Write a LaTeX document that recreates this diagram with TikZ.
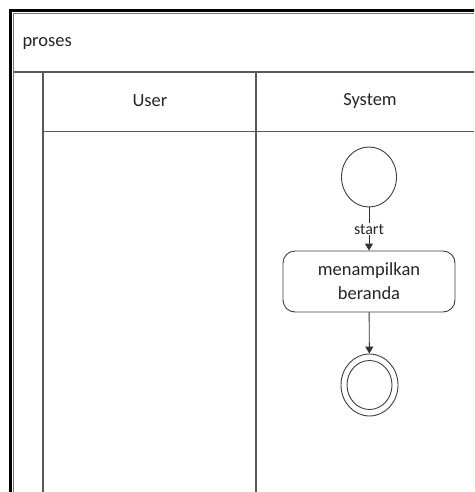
\documentclass[tikz,border=0pt]{standalone}
\usepackage{fontspec}
\setmainfont{Carlito}
\usetikzlibrary{shapes.geometric,arrows.meta}
\tikzset{
  lane/.style={draw=black!65, line width=1.3pt},
  bigtxt/.style={font=\fontsize{18.5}{24}\selectfont, text=black!85},
  lbltxt/.style={font=\fontsize{16}{19}\selectfont, text=black!85},
  initnode/.style={ellipse, draw=black!75, line width=0.9pt, minimum width=55pt, minimum height=60pt, inner sep=0pt},
  finalouter/.style={ellipse, draw=black!75, line width=0.9pt, minimum width=57pt, minimum height=62pt, inner sep=0pt},
  finalinner/.style={ellipse, draw=black!75, line width=0.9pt, minimum width=45pt, minimum height=49pt, inner sep=0pt},
  actionbox/.style={draw=black!75, line width=0.9pt, rounded corners=12pt, minimum width=172pt, minimum height=61pt, align=center, inner sep=2pt},
  flow/.style={draw=black!80, line width=0.9pt, -{Triangle[width=8pt,length=7pt]}}
}
\begin{document}
\begin{tikzpicture}[x=1pt,y=-1pt]
\useasboundingbox (0,0) rectangle (474,492);
\clip (0,0) rectangle (474,492);
\fill[white] (0,0) rectangle (474,492);
% outer frame
\draw[black, line width=3pt] (480,10.5) -- (10.5,10.5) -- (10.5,500);
\draw[black!55, line width=1pt] (480,13.8) -- (13.8,13.8) -- (13.8,500);
% header line
\draw[lane] (13.8,72) -- (480,72);
\node[bigtxt, anchor=west] (title) at (19,43) {proses};
% lane lines
\draw[lane] (43,72) -- (43,500);
\draw[lane] (256,72) -- (256,500);
\draw[lane] (43,131.5) -- (480,131.5);
\node[bigtxt] (user) at (150,101) {User};
\node[bigtxt] (system) at (370,101) {System};
% activity
\node[initnode] (init) at (369,177) {};
\node[actionbox, bigtxt] (act) at (369,281.5) {menampilkan\\beranda};
\node[finalouter] (final) at (369.5,385) {};
\node[finalinner] (finalin) at (369.5,385) {};
\draw[flow] (init) -- node[lbltxt, fill=white, inner sep=1pt] (startlbl) {start} (act);
\draw[flow] (act) -- (final);
\end{tikzpicture}
\end{document}
